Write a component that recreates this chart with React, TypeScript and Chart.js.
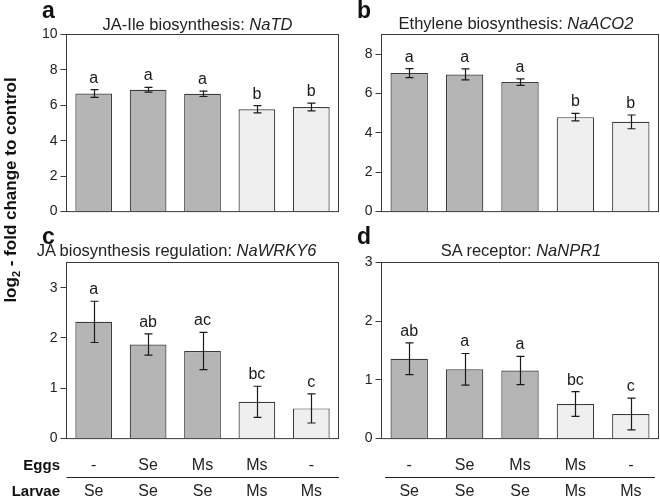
import React, { useEffect, useRef } from "react";
import { Chart, registerables } from "chart.js";

Chart.register(...registerables);

const categories = ["-/Se", "Se/Se", "Ms/Se", "Ms/Ms", "-/Ms"];
const eggs = ["-", "Se", "Ms", "Ms", "-"];
const larvae = ["Se", "Se", "Se", "Ms", "Ms"];

const naTD = [6.67, 6.88, 6.65, 5.78, 5.91];
const naTDErr = [0.22, 0.13, 0.15, 0.2, 0.22];
const naTDLetters = ["a", "a", "a", "b", "b"];

const naACO2 = [7.04, 6.97, 6.58, 4.8, 4.56];
const naACO2Err = [0.23, 0.28, 0.17, 0.19, 0.35];
const naACO2Letters = ["a", "a", "a", "b", "b"];

const naWRKY6 = [2.32, 1.87, 1.74, 0.73, 0.6];
const naWRKY6Err = [0.41, 0.21, 0.37, 0.31, 0.29];
const naWRKY6Letters = ["a", "ab", "ac", "bc", "c"];

const naNPR1 = [1.36, 1.18, 1.16, 0.59, 0.42];
const naNPR1Err = [0.27, 0.27, 0.24, 0.21, 0.27];
const naNPR1Letters = ["ab", "a", "a", "bc", "c"];

const FONT = "'Liberation Sans', Arial, Helvetica, sans-serif";
const DARK = "#b5b5b5";
const LIGHT = "#efefef";

type Panel = {
  values: number[];
  errs: number[];
  letters: string[];
  max: number;
  step: number;
  L: number;
  R: number;
  T: number;
  B: number;
};

const panels: Panel[] = [
  { values: naTD, errs: naTDErr, letters: naTDLetters, max: 10, step: 2, L: 66.5, R: 338.5, T: 34.5, B: 212.5 },
  { values: naACO2, errs: naACO2Err, letters: naACO2Letters, max: 9, step: 2, L: 381.5, R: 658.5, T: 34.5, B: 212.5 },
  { values: naWRKY6, errs: naWRKY6Err, letters: naWRKY6Letters, max: 3.5, step: 1, L: 66.5, R: 338.5, T: 262.5, B: 439.5 },
  { values: naNPR1, errs: naNPR1Err, letters: naNPR1Letters, max: 3, step: 1, L: 381.5, R: 658.5, T: 262.5, B: 439.5 },
];

const annotPlugin = {
  id: "annot",
  afterDatasetsDraw(chart: any, _args: any, opts: any) {
    const ctx = chart.ctx;
    const meta = chart.getDatasetMeta(0);
    const y = chart.scales.y;
    const values: number[] = opts.values;
    const errs: number[] = opts.errs;
    const letters: string[] = opts.letters;
    ctx.save();
    ctx.strokeStyle = "#1a1a1a";
    ctx.lineWidth = 1.2;
    meta.data.forEach((bar: any, i: number) => {
      const x = Math.round(bar.x) + 0.5;
      const yt = y.getPixelForValue(values[i] + errs[i]);
      const yb = y.getPixelForValue(values[i] - errs[i]);
      ctx.beginPath();
      ctx.moveTo(x, yt);
      ctx.lineTo(x, yb);
      ctx.moveTo(x - 4, yt);
      ctx.lineTo(x + 4, yt);
      ctx.moveTo(x - 4, yb);
      ctx.lineTo(x + 4, yb);
      ctx.stroke();
      ctx.fillStyle = "#1a1a1a";
      ctx.font = `16px ${FONT}`;
      ctx.textAlign = "center";
      ctx.textBaseline = "alphabetic";
      ctx.fillText(letters[i], bar.x, yt - 7);
    });
    ctx.restore();
  },
  afterDraw(chart: any) {
    const { left, right, top, bottom } = chart.chartArea;
    const ctx = chart.ctx;
    ctx.save();
    ctx.strokeStyle = "#3a3a3a";
    ctx.lineWidth = 1;
    ctx.strokeRect(left, top, right - left, bottom - top);
    ctx.restore();
  },
};

function PanelChart({ p }: { p: Panel }) {
  const ref = useRef<HTMLCanvasElement>(null);
  const canvasLeft = Math.floor(p.L) - 66;
  const canvasTop = Math.floor(p.T) - 15;
  const canvasW = Math.min(660, Math.ceil(p.R) + 6) - canvasLeft;
  const canvasH = Math.ceil(p.B) + 10 - canvasTop;
  const yWidth = p.L - canvasLeft;
  useEffect(() => {
    const chart = new Chart(ref.current as HTMLCanvasElement, {
      type: "bar",
      data: {
        labels: categories,
        datasets: [
          {
            data: p.values,
            backgroundColor: p.values.map((_, i) => (i < 3 ? DARK : LIGHT)),
            borderColor: "#3c3c3c",
            borderWidth: 1.2,
            barPercentage: 0.675,
            categoryPercentage: 1,
          },
        ],
      },
      options: {
        responsive: false,
        maintainAspectRatio: false,
        animation: false,
        devicePixelRatio: 1,
        layout: {
          padding: {
            left: 0,
            top: p.T - canvasTop,
            right: canvasLeft + canvasW - p.R,
            bottom: canvasTop + canvasH - p.B,
          },
        },
        plugins: {
          legend: { display: false },
          tooltip: { enabled: false },
          title: { display: false },
          annot: { values: p.values, errs: p.errs, letters: p.letters },
        } as any,
        scales: {
          x: { display: false },
          y: {
            min: 0,
            max: p.max,
            ticks: {
              stepSize: p.step,
              padding: 3,
              color: "#222",
              font: { family: FONT, size: 14 },
            },
            grid: {
              drawOnChartArea: false,
              drawTicks: true,
              tickLength: 6,
              color: "#3a3a3a",
            },
            border: { display: false },
            afterBuildTicks: (scale: any) => {
              scale.ticks = scale.ticks.filter(
                (t: any) => Math.abs(t.value / p.step - Math.round(t.value / p.step)) < 1e-9
              );
            },
            afterFit: (scale: any) => {
              scale.width = yWidth;
            },
          },
        },
      },
      plugins: [annotPlugin],
    });
    return () => chart.destroy();
  }, []);
  return (
    <canvas
      ref={ref}
      width={canvasW}
      height={canvasH}
      style={{ position: "absolute", left: canvasLeft, top: canvasTop, width: canvasW, height: canvasH }}
    />
  );
}

const titles = [
  { x: 197.5, y: 29.5, plain: "JA-Ile biosynthesis: ", ital: "NaTD" },
  { x: 516, y: 28.5, plain: "Ethylene biosynthesis: ", ital: "NaACO2" },
  { x: 176.5, y: 255.5, plain: "JA biosynthesis regulation: ", ital: "NaWRKY6" },
  { x: 521, y: 255.5, plain: "SA receptor: ", ital: "NaNPR1" },
];

const panelLetters = [
  { t: "a", x: 42, y: 18 },
  { t: "b", x: 357, y: 18 },
  { t: "c", x: 42, y: 243.5 },
  { t: "d", x: 357, y: 244 },
];

export default function App() {
  const centers = (L: number, R: number) => categories.map((_, i) => L + ((i + 0.5) * (R - L)) / categories.length);
  const leftC = centers(panels[2].L, panels[2].R);
  const rightC = centers(panels[3].L, panels[3].R);
  return (
    <div style={{ position: "absolute", left: 0, top: 0, width: 660, height: 497, background: "#fff", overflow: "hidden" }}>
      {panels.map((p, i) => (
        <PanelChart key={i} p={p} />
      ))}
      <svg
        width={660}
        height={497}
        style={{ position: "absolute", left: 0, top: 0, pointerEvents: "none" }}
        fontFamily={FONT}
      >
        {panelLetters.map((l) => (
          <text key={l.t} x={l.x} y={l.y} fontSize={23} fontWeight="bold" fill="#111">
            {l.t}
          </text>
        ))}
        {titles.map((t, i) => (
          <text key={i} x={t.x} y={t.y} fontSize={16.5} textAnchor="middle" fill="#222">
            {t.plain}
            <tspan fontStyle="italic">{t.ital}</tspan>
          </text>
        ))}
        <text transform="translate(15.5,190) rotate(-90)" fontSize={17} fontWeight="bold" textAnchor="middle" fill="#111">
          log
          <tspan fontSize={11} dy={4}>
            2
          </tspan>
          <tspan dy={-4}> - fold change to control</tspan>
        </text>
        <text x={60} y={470} fontSize={15} fontWeight="bold" textAnchor="end" fill="#111">
          Eggs
        </text>
        <text x={60} y={496} fontSize={15} fontWeight="bold" textAnchor="end" fill="#111">
          Larvae
        </text>
        {[leftC, rightC].map((cs, k) =>
          cs.map((cx, i) => (
            <g key={`${k}-${i}`}>
              <text x={cx} y={470} fontSize={16} textAnchor="middle" fill="#222">
                {eggs[i]}
              </text>
              <text x={cx} y={496} fontSize={16} textAnchor="middle" fill="#222">
                {larvae[i]}
              </text>
            </g>
          ))
        )}
        <line x1={66.5} x2={339} y1={477.5} y2={477.5} stroke="#222" strokeWidth={1} />
        <line x1={385} x2={655} y1={477.5} y2={477.5} stroke="#222" strokeWidth={1} />
      </svg>
    </div>
  );
}
